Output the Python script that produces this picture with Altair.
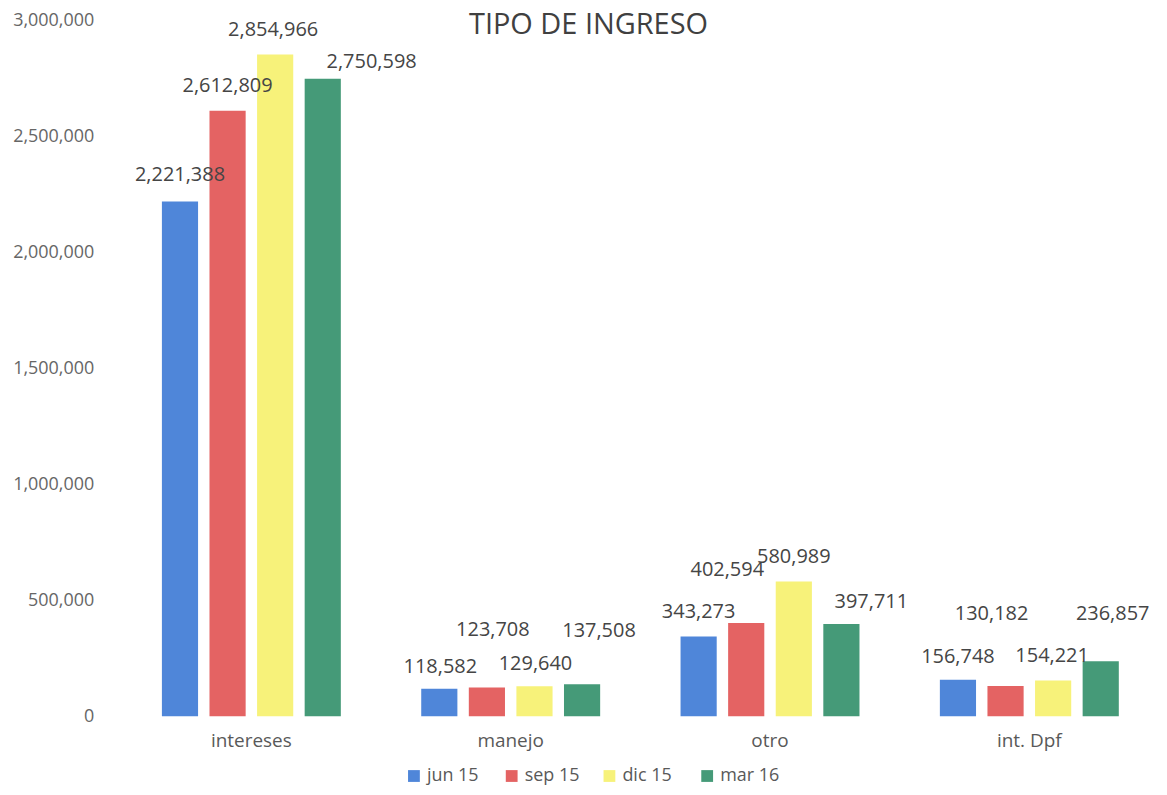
import altair as alt
import pandas as pd

categories = ["intereses", "manejo", "otro", "int. Dpf"]
series = ["jun 15", "sep 15", "dic 15", "mar 16"]
values = {
    "jun 15": [2221388, 118582, 343273, 156748],
    "sep 15": [2612809, 123708, 402594, 130182],
    "dic 15": [2854966, 129640, 580989, 154221],
    "mar 16": [2750598, 137508, 397711, 236857],
}
colors = ["#4f86d9", "#e46363", "#f7f27a", "#459a78"]

# label offsets (style only), per series, per category
label_dx = {
    "jun 15": [0, 1, 0, 0],
    "sep 15": [0, 6, -19, -14],
    "dic 15": [-2, 1, 0, -1],
    "mar 16": [49, 17, 30, 12],
}
label_dy = {
    "jun 15": [-26, -22, -25, -23],
    "sep 15": [-25, -58, -53, -72],
    "dic 15": [-25, -22, -25, -24],
    "mar 16": [-17, -53, -22, -47],
}

rows = []
for s in series:
    for i, (c, v) in enumerate(zip(categories, values[s])):
        rows.append({"cat": c, "serie": s, "valor": v,
                     "ldx": label_dx[s][i], "ldy": label_dy[s][i]})
df = pd.DataFrame(rows)

FONT = "Open Sans"
x = alt.X("cat:N", sort=categories, title=None,
          scale=alt.Scale(paddingInner=0.31, paddingOuter=0.155),
          axis=alt.Axis(labelAngle=0, ticks=False, domain=False, labelFontSize=19,
                        labelColor="#595959", labelPadding=15, labelFont=FONT))
xo = alt.XOffset("serie:N", sort=series, scale=alt.Scale(paddingInner=0.24))
y = alt.Y("valor:Q", title=None,
          scale=alt.Scale(domain=[0, 3000000]),
          axis=alt.Axis(values=[0, 500000, 1000000, 1500000, 2000000, 2500000, 3000000],
                        format=",.0f", grid=False, ticks=False, domain=False,
                        labelFontSize=18, labelColor="#666666", labelPadding=28,
                        labelFont=FONT))

bars = alt.Chart(df).mark_bar().encode(
    x=x, xOffset=xo, y=y,
    color=alt.Color("serie:N", sort=series,
                    scale=alt.Scale(domain=series, range=colors),
                    legend=alt.Legend(title=None, orient="none", direction="horizontal",
                                      legendX=284, legendY=748, symbolType="square",
                                      symbolSize=140, labelFontSize=18,
                                      labelColor="#595959", columnPadding=16,
                                      gridAlign="all", labelFont=FONT)),
)
labels = alt.Chart(df).mark_text(
    dx=alt.expr("datum.ldx"), dy=alt.expr("datum.ldy"),
    fontSize=20, color="#454545", font=FONT,
).encode(
    x=x, xOffset=xo, y=y, text=alt.Text("valor:Q", format=",")
)

chart = (bars + labels).properties(
    width=1040, height=697,
    padding={"left": 4, "top": 2, "right": 0, "bottom": 0},
    title=alt.TitleParams("TIPO DE INGRESO", fontSize=29, fontWeight="normal",
                          color="#404040", offset=-28, dx=-52, font=FONT),
).configure_view(stroke=None)

chart.save("out.html", embed_options={"renderer": "svg", "actions": False})
